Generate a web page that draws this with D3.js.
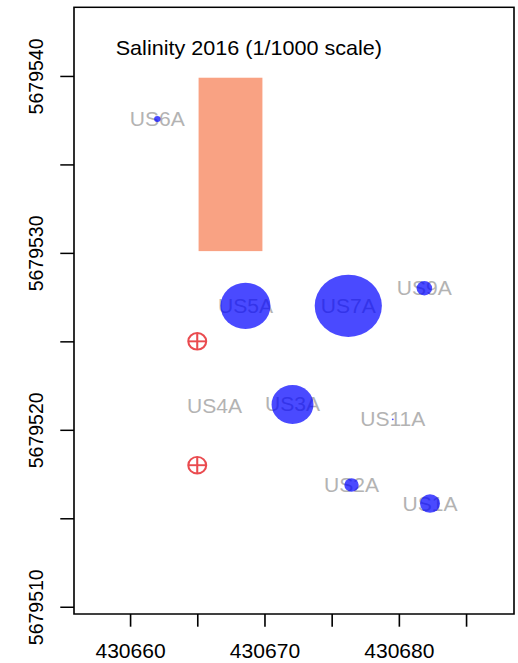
<!DOCTYPE html>
<html>
<head>
<meta charset="utf-8">
<script src="https://cdn.jsdelivr.net/npm/d3@7"></script>
<style>
  html, body { margin: 0; padding: 0; background: #fff; }
  svg { display: block; }
  text { font-family: "Liberation Sans", Arial, Helvetica, sans-serif; }
</style>
</head>
<body>
<svg id="chart" width="518" height="663"></svg>
<script>
// Sampling stations (UTM easting / northing) and salinity values
const stations = ["US1A", "US2A", "US3A", "US4A", "US5A", "US6A", "US7A", "US9A", "US11A"];
const eastings = [430682.32, 430676.48, 430672.09, 430666.29, 430668.59, 430662.03, 430676.24, 430681.90, 430679.55];
const northings = [5679515.83, 5679516.88, 5679521.43, 5679521.37, 5679527.01, 5679537.57, 5679527.01, 5679528.00, 5679520.59];
const salinity = [745, 535, 1560, 0, 1860, 240, 2500, 580, 70];

// Reference markers (circled crosses)
const refEast = [430665, 430665];
const refNorth = [5679525, 5679518];

// Shaded zone extent
const zoneEast = [430665.1, 430669.85];
const zoneNorth = [5679530.1, 5679539.9];

// Axis ticks
const xTicks = [430660, 430665, 430670, 430675, 430680, 430685];
const xTickLabels = ["430660", "", "430670", "", "430680", ""];
const yTicks = [5679510, 5679515, 5679520, 5679525, 5679530, 5679535, 5679540];
const yTickLabels = ["5679510", "", "5679520", "", "5679530", "", "5679540"];

const title = "Salinity 2016 (1/1000 scale)";
const radiusDivisor = 1000;

// Device is slightly wider than tall: draw in an inner frame stretched horizontally
const SX = 1.08;
const box = { left: 74, right: 514, top: 7.3, bottom: 614 };

const svg = d3.select("#chart");
const g = svg.append("g").attr("transform", `scale(${SX},1)`);

const x = d3.scaleLinear()
  .domain([430655.83, 430688.57])
  .range([box.left / SX, box.right / SX]);
const y = d3.scaleLinear()
  .domain([5679543.88, 5679509.59])
  .range([box.top, box.bottom]);

// Shaded zone
g.append("rect")
  .attr("x", x(zoneEast[0]))
  .attr("y", y(zoneNorth[1]))
  .attr("width", x(zoneEast[1]) - x(zoneEast[0]))
  .attr("height", y(zoneNorth[0]) - y(zoneNorth[1]))
  .attr("fill", "#f9a283");

const pts = stations.map((s, i) => ({
  name: s, e: eastings[i], n: northings[i], v: salinity[i]
}));

const labelSize = 19.5;

// Station labels (drawn under the symbols)
g.append("g").selectAll("text")
  .data(pts)
  .join("text")
  .attr("x", d => x(d.e))
  .attr("y", d => y(d.n) + 0.358 * labelSize)
  .attr("text-anchor", "middle")
  .attr("font-size", labelSize)
  .attr("fill", "#b3b3b3")
  .text(d => d.name);

// Salinity circles, radius in map units = value / 1000
const rad = v => Math.abs(x(x.domain()[0] + v / radiusDivisor) - x(x.domain()[0]));
g.append("g").selectAll("circle")
  .data(pts.filter(d => d.v > 0))
  .join("circle")
  .attr("cx", d => x(d.e))
  .attr("cy", d => y(d.n))
  .attr("r", d => rad(d.v))
  .attr("fill", "rgba(0,0,255,0.71)");

// Circled-cross reference markers
const refs = g.append("g")
  .attr("stroke", "#e8383d")
  .attr("stroke-width", 1.9)
  .attr("fill", "none")
  .attr("opacity", 0.9);
const rr = 8.3;
refEast.forEach((e, i) => {
  const cx = x(e), cy = y(refNorth[i]);
  refs.append("circle").attr("cx", cx).attr("cy", cy).attr("r", rr);
  refs.append("line").attr("x1", cx - rr).attr("x2", cx + rr).attr("y1", cy).attr("y2", cy);
  refs.append("line").attr("x1", cx).attr("x2", cx).attr("y1", cy - rr).attr("y2", cy + rr);
});

// Title
g.append("text")
  .attr("x", 115.7 / SX)
  .attr("y", 55)
  .attr("font-size", 20)
  .attr("fill", "#000")
  .text(title);

// Axes
const tickLen = 12.7;
const fontSize = 19.5;

const xAxis = g.append("g")
  .attr("transform", `translate(0,${box.bottom})`)
  .call(d3.axisBottom(x)
    .tickValues(xTicks)
    .tickSize(tickLen)
    .tickFormat((d, i) => xTickLabels[i]));
xAxis.select(".domain").remove();
xAxis.selectAll(".tick line").attr("stroke", "#000").attr("stroke-width", 1.5);
xAxis.selectAll(".tick text")
  .attr("y", 44)
  .attr("dy", 0)
  .attr("font-size", fontSize)
  .attr("fill", "#000")
  .attr("font-family", "Liberation Sans, Arial, sans-serif");

const yAxis = g.append("g")
  .attr("transform", `translate(${box.left / SX},0)`)
  .call(d3.axisLeft(y)
    .tickValues(yTicks)
    .tickSize(tickLen)
    .tickFormat((d, i) => yTickLabels[i]));
yAxis.select(".domain").remove();
yAxis.selectAll(".tick line").attr("stroke", "#000").attr("stroke-width", 1.5);
yAxis.selectAll(".tick text")
  .attr("x", 0)
  .attr("y", 0)
  .attr("dy", 0)
  .attr("text-anchor", "middle")
  .attr("transform", `translate(${43 / SX - box.left / SX},0) rotate(-90)`)
  .attr("font-size", fontSize)
  .attr("fill", "#000")
  .attr("font-family", "Liberation Sans, Arial, sans-serif");

// Plot frame
g.append("rect")
  .attr("x", box.left / SX)
  .attr("y", box.top)
  .attr("width", (box.right - box.left) / SX)
  .attr("height", box.bottom - box.top)
  .attr("fill", "none")
  .attr("stroke", "#000")
  .attr("stroke-width", 1.5);
</script>
</body>
</html>
